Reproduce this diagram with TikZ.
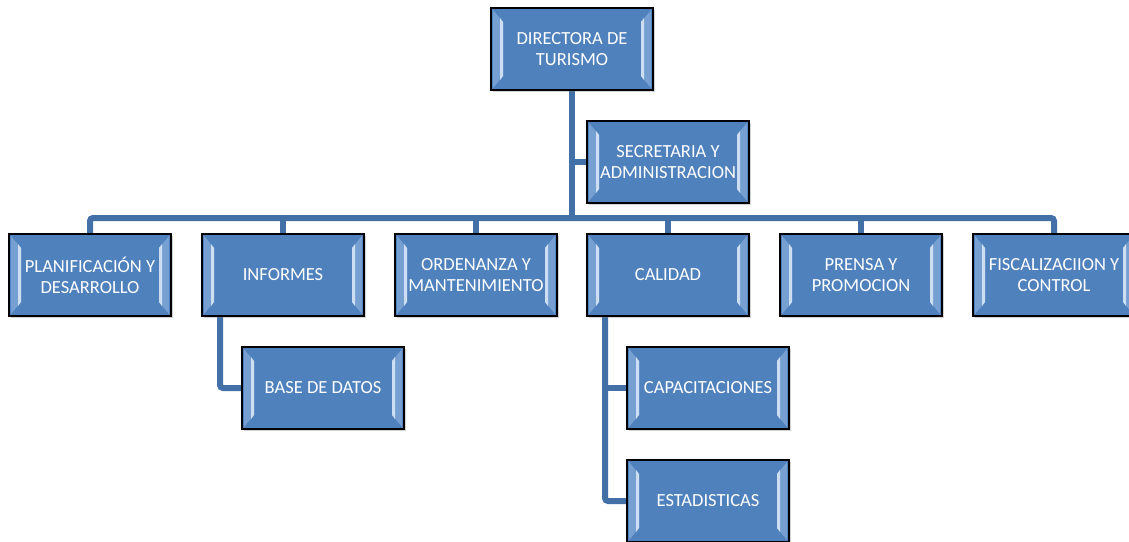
\documentclass[tikz,border=0pt]{standalone}
\usepackage{fontspec}
\setmainfont{Carlito}
\usetikzlibrary{shadows,backgrounds}
\definecolor{boxblue}{RGB}{79,129,189}
\definecolor{bevel}{RGB}{205,222,243}
\definecolor{bevelmid}{RGB}{118,160,210}
\definecolor{linkblue}{RGB}{68,112,168}
\tikzset{
  orgbox/.style={rectangle, draw=black, line width=1.4pt, fill=boxblue,
    minimum width=162pt, minimum height=82pt, inner sep=0pt,
    text=white, align=center, font=\fontsize{18.5pt}{21pt}\selectfont,
    drop shadow={opacity=0.35, shadow xshift=2pt, shadow yshift=-2pt},
    path picture={
      \fill[bevelmid]
        ([shift={(2pt,-2pt)}]path picture bounding box.north west)
        -- ([shift={(12pt,-14pt)}]path picture bounding box.north west)
        -- ([shift={(12pt,14pt)}]path picture bounding box.south west)
        -- ([shift={(2pt,2pt)}]path picture bounding box.south west) -- cycle;
      \fill[bevel]
        ([shift={(9pt,-10pt)}]path picture bounding box.north west)
        -- ([shift={(12pt,-14pt)}]path picture bounding box.north west)
        -- ([shift={(12pt,14pt)}]path picture bounding box.south west)
        -- ([shift={(9pt,10pt)}]path picture bounding box.south west) -- cycle;
      \fill[bevelmid]
        ([shift={(-2pt,-2pt)}]path picture bounding box.north east)
        -- ([shift={(-12pt,-14pt)}]path picture bounding box.north east)
        -- ([shift={(-12pt,14pt)}]path picture bounding box.south east)
        -- ([shift={(-2pt,2pt)}]path picture bounding box.south east) -- cycle;
      \fill[bevel]
        ([shift={(-9pt,-10pt)}]path picture bounding box.north east)
        -- ([shift={(-12pt,-14pt)}]path picture bounding box.north east)
        -- ([shift={(-12pt,14pt)}]path picture bounding box.south east)
        -- ([shift={(-9pt,10pt)}]path picture bounding box.south east) -- cycle;
    }},
  link/.style={draw=linkblue, line width=6pt, rounded corners=3pt}
}
\begin{document}
\begin{tikzpicture}[x=1pt, y=-1pt]
\useasboundingbox (0,0) rectangle (1129,541);
\coordinate (bus) at (572,218);
\node[orgbox] (dir) at (572,49) {DIRECTORA DE\\TURISMO};
\node[orgbox] (sec) at (668,162) {SECRETARIA Y\\ADMINISTRACION};
\node[orgbox] (pla) at (90,275) {PLANIFICACIÓN Y\\DESARROLLO};
\node[orgbox] (inf) at (283,275) {INFORMES};
\node[orgbox] (ord) at (476,275) {ORDENANZA Y\\MANTENIMIENTO};
\node[orgbox] (cal) at (668,275) {CALIDAD};
\node[orgbox] (pre) at (861,275) {PRENSA Y\\PROMOCION};
\node[orgbox] (fis) at (1054,275) {FISCALIZACIION Y\\CONTROL};
\node[orgbox] (bas) at (323,388) {BASE DE DATOS};
\node[orgbox] (cap) at (708,388) {CAPACITACIONES};
\node[orgbox] (est) at (708,501) {ESTADISTICAS};
\coordinate (infdrop) at ([xshift=-63pt]inf.south);
\coordinate (caldrop) at ([xshift=-63pt]cal.south);
\begin{scope}[on background layer]
  \draw[link] (pla.north) -- (pla.north |- bus) -- (fis.north |- bus) -- (fis.north);
  \draw[link] (dir.south) -- (dir.south |- bus);
  \draw[link] (sec.west) -- (sec.west -| dir.south);
  \draw[link] (inf.north) -- (inf.north |- bus);
  \draw[link] (ord.north) -- (ord.north |- bus);
  \draw[link] (cal.north) -- (cal.north |- bus);
  \draw[link] (pre.north) -- (pre.north |- bus);
  \draw[link] (infdrop) -- (infdrop |- bas.west) -- (bas.west);
  \draw[link] (caldrop) -- (caldrop |- est.west) -- (est.west);
  \draw[link] (cap.west) -- (cap.west -| caldrop);
\end{scope}
\end{tikzpicture}
\end{document}
